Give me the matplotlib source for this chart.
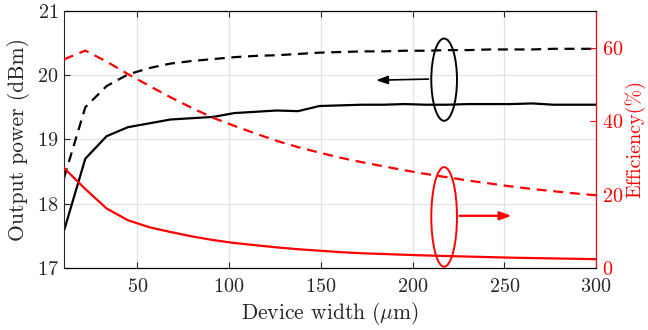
import matplotlib
matplotlib.use("Agg")
import matplotlib.pyplot as plt
from matplotlib.patches import Ellipse

plt.rcParams["font.family"] = "serif"
plt.rcParams["font.serif"] = ["cmr10"]
plt.rcParams["mathtext.fontset"] = "cm"
plt.rcParams["axes.formatter.use_mathtext"] = True
plt.rcParams["axes.unicode_minus"] = False

# device width (um)
width = [10, 21.6, 33.2, 44.8, 56.4, 68, 79.6, 91.2, 102.8, 114.4, 126, 137.6, 149.2,
         160.8, 172.4, 184, 195.6, 207.2, 218.8, 230.4, 242, 253.6, 265.2, 276.8, 288.4, 300]

# output power (dBm)
power_solid = [17.58, 18.70, 19.05, 19.19, 19.25, 19.31, 19.33, 19.35, 19.41, 19.43, 19.45,
               19.44, 19.52, 19.53, 19.54, 19.54, 19.55, 19.54, 19.54, 19.55, 19.55, 19.55,
               19.56, 19.54, 19.54, 19.54]
power_dashed = [18.40, 19.50, 19.83, 20.01, 20.11, 20.18, 20.22, 20.25, 20.28, 20.30, 20.31,
                20.33, 20.35, 20.36, 20.37, 20.37, 20.38, 20.38, 20.39, 20.39, 20.40, 20.40,
                20.40, 20.41, 20.41, 20.41]

# efficiency (%)
eff_solid = [27.2, 21.5, 16.2, 13.0, 11.1, 9.8, 8.6, 7.6, 6.8, 6.2, 5.6, 5.1, 4.7, 4.3, 4.0,
             3.8, 3.6, 3.4, 3.25, 3.1, 2.95, 2.8, 2.7, 2.6, 2.5, 2.4]
eff_dashed = [56.8, 59.2, 56.2, 52.8, 49.6, 46.5, 43.6, 40.9, 38.7, 36.6, 34.6, 32.9, 31.4,
              30.0, 28.8, 27.7, 26.6, 25.6, 24.7, 23.8, 23.0, 22.2, 21.5, 20.9, 20.3, 19.8]

red = "#ff0000"
dash = (0, (4.5, 3))

fig = plt.figure(figsize=(6.48, 3.3), dpi=100)
ax1 = fig.add_axes([0.0988, 0.188, 0.821, 0.779])
ax2 = ax1.twinx()

ax1.plot(width, power_solid, color="black", lw=1.6)
ax1.plot(width, power_dashed, color="black", lw=1.6, linestyle=dash)
ax2.plot(width, eff_solid, color=red, lw=1.6)
ax2.plot(width, eff_dashed, color=red, lw=1.6, linestyle=dash)

ax1.set_xlim(10, 300)
ax1.set_ylim(17, 21)
ax2.set_ylim(0, 70)
ax1.set_xticks([50, 100, 150, 200, 250, 300])
ax1.set_yticks([17, 18, 19, 20, 21])
ax2.set_yticks([0, 20, 40, 60])
ax1.grid(True, color="#e3e3e3", lw=0.9)
ax1.set_axisbelow(True)

ax1.tick_params(axis="x", direction="in", length=4, labelsize=14.5, colors="#262626",
                top=True, pad=7)
ax1.tick_params(axis="y", direction="in", length=4, labelsize=14.5, colors="#262626", pad=4)
ax2.tick_params(axis="y", direction="in", length=4, labelsize=14.5, colors=red, pad=4)
for s in ["left", "bottom", "top"]:
    ax1.spines[s].set_color("#262626")
ax2.spines["right"].set_color(red)
ax2.spines["left"].set_visible(False)

ax1.set_xlabel(r"Device width ($\mu$m)", fontsize=15.5, color="#262626", labelpad=3)
ax1.set_ylabel("Output power (dBm)", fontsize=15.5, color="#262626", labelpad=5)
ax2.set_ylabel("Efficiency(%)", fontsize=14.5, color=red, labelpad=1)

# annotations: ellipses with arrows
ax1.add_patch(Ellipse((217.2, 19.93), 14, 1.28, fill=False, ec="black", lw=1.4, zorder=5))
ax1.annotate("", xy=(178.6, 19.92), xytext=(210.2, 19.94),
             arrowprops=dict(arrowstyle="-|>,head_length=0.7,head_width=0.25",
                             color="black", lw=1.2))
ax2.add_patch(Ellipse((217.2, 13.9), 14, 27.1, fill=False, ec=red, lw=1.4, zorder=5))
ax2.annotate("", xy=(255.5, 14.2), xytext=(224.1, 14.2),
             arrowprops=dict(arrowstyle="-|>,head_length=0.7,head_width=0.25",
                             color=red, lw=1.6))

fig.savefig("out.png", dpi=100)
